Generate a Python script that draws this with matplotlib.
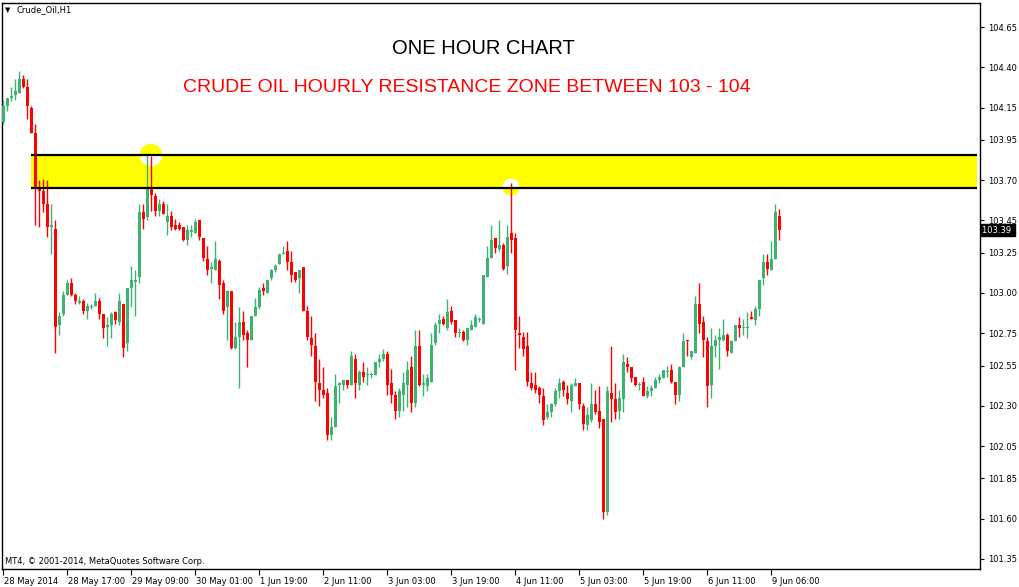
import numpy as np
import matplotlib
matplotlib.use("Agg")
from matplotlib import pyplot as plt
from matplotlib.patches import Rectangle, Ellipse
from matplotlib import transforms

# hourly candles, Crude_Oil H1, 28 May 2014 -> 9 Jun 2014
opens = [104.06, 104.16, 104.21, 104.23, 104.24, 104.33, 104.28, 104.15, 103.99, 103.65,
         103.63, 103.55, 103.41, 103.40, 102.80, 102.87, 102.99, 103.06, 102.99, 102.94,
         102.95, 102.89, 102.91, 102.92, 102.95, 102.87, 102.79, 102.80, 102.88, 102.82,
         102.93, 102.69, 103.03, 103.07, 103.10, 103.50, 103.47, 103.66, 103.60, 103.51,
         103.55, 103.44, 103.48, 103.42, 103.42, 103.41, 103.33, 103.38, 103.37, 103.45,
         103.34, 103.21, 103.15, 103.14, 103.20, 103.06, 102.91, 103.01, 102.66, 102.73,
         102.82, 102.75, 102.71, 102.86, 102.91, 103.03, 103.00, 103.09, 103.14, 103.18,
         103.24, 103.26, 103.19, 103.13, 103.09, 103.16, 102.89, 102.72, 102.67, 102.44,
         102.40, 102.38, 102.12, 102.17, 102.43, 102.43, 102.46, 102.43, 102.59, 102.43,
         102.51, 102.49, 102.49, 102.49, 102.57, 102.59, 102.62, 102.44, 102.37, 102.27,
         102.37, 102.43, 102.54, 102.32, 102.67, 102.43, 102.42, 102.45, 102.69, 102.81,
         102.84, 102.78, 102.89, 102.83, 102.75, 102.76, 102.71, 102.77, 102.79, 102.83,
         102.81, 103.10, 103.22, 103.34, 103.27, 103.30, 103.17, 103.37, 103.34, 102.75,
         102.73, 102.67, 102.44, 102.43, 102.41, 102.36, 102.23, 102.26, 102.31, 102.39,
         102.45, 102.38, 102.33, 102.42, 102.44, 102.30, 102.18, 102.21, 102.31, 102.27,
         102.22, 101.64, 102.38, 102.34, 102.27, 102.34, 102.56, 102.54, 102.48, 102.43,
         102.45, 102.36, 102.39, 102.41, 102.46, 102.47, 102.51, 102.52, 102.45, 102.37,
         102.54, 102.71, 102.60, 102.63, 102.93, 102.82, 102.70, 102.43, 102.67, 102.71,
         102.71, 102.74, 102.63, 102.70, 102.80, 102.78, 102.78, 102.85, 102.83, 102.90,
         103.09, 103.19, 103.14, 103.21, 103.48]
highs = [104.20, 104.21, 104.28, 104.33, 104.38, 104.35, 104.33, 104.16, 104.05, 103.70,
         103.71, 103.70, 103.55, 103.45, 102.88, 103.01, 103.08, 103.09, 103.00, 102.98,
         102.96, 102.94, 102.93, 103.00, 102.97, 102.87, 102.85, 102.88, 102.89, 103.00,
         102.93, 103.03, 103.17, 103.14, 103.55, 103.55, 103.86, 103.85, 103.62, 103.58,
         103.57, 103.55, 103.51, 103.46, 103.44, 103.41, 103.42, 103.42, 103.46, 103.45,
         103.34, 103.29, 103.19, 103.32, 103.21, 103.08, 103.02, 103.01, 102.82, 102.91,
         102.89, 102.77, 102.86, 102.97, 103.04, 103.06, 103.08, 103.15, 103.18, 103.24,
         103.29, 103.32, 103.26, 103.13, 103.14, 103.16, 102.92, 102.86, 102.75, 102.59,
         102.54, 102.41, 102.23, 102.50, 102.45, 102.46, 102.46, 102.64, 102.62, 102.52,
         102.57, 102.54, 102.51, 102.57, 102.62, 102.65, 102.64, 102.53, 102.39, 102.41,
         102.51, 102.58, 102.61, 102.77, 102.77, 102.50, 102.50, 102.75, 102.82, 102.87,
         102.86, 102.96, 102.92, 102.83, 102.78, 102.77, 102.78, 102.83, 102.87, 102.85,
         103.11, 103.29, 103.42, 103.34, 103.45, 103.31, 103.42, 103.68, 103.37, 102.86,
         102.76, 102.76, 102.51, 102.51, 102.42, 102.41, 102.31, 102.32, 102.41, 102.47,
         102.46, 102.43, 102.44, 102.47, 102.44, 102.32, 102.29, 102.44, 102.40, 102.42,
         102.22, 102.42, 102.67, 102.44, 102.40, 102.62, 102.60, 102.54, 102.48, 102.45,
         102.48, 102.42, 102.43, 102.48, 102.50, 102.52, 102.55, 102.56, 102.45, 102.55,
         102.75, 102.71, 102.64, 102.98, 103.06, 102.86, 102.73, 102.78, 102.74, 102.78,
         102.84, 102.75, 102.71, 102.80, 102.85, 102.84, 102.88, 102.89, 102.92, 103.08,
         103.24, 103.24, 103.32, 103.55, 103.52]
lows = [104.05, 104.13, 104.19, 104.20, 104.24, 104.27, 104.08, 103.99, 103.42, 103.41,
        103.50, 103.35, 103.24, 102.63, 102.74, 102.86, 102.99, 102.98, 102.93, 102.93,
        102.87, 102.84, 102.90, 102.92, 102.84, 102.72, 102.67, 102.72, 102.81, 102.80,
        102.60, 102.64, 102.91, 102.86, 103.06, 103.40, 103.45, 103.51, 103.48, 103.48,
        103.49, 103.36, 103.39, 103.39, 103.39, 103.32, 103.30, 103.35, 103.37, 103.33,
        103.20, 103.11, 103.06, 103.14, 102.96, 102.87, 102.71, 102.65, 102.65, 102.41,
        102.71, 102.54, 102.71, 102.86, 102.90, 102.99, 103.00, 103.08, 103.13, 103.18,
        103.24, 103.14, 103.07, 103.07, 103.00, 102.89, 102.71, 102.61, 102.33, 102.30,
        102.35, 102.09, 102.09, 102.17, 102.32, 102.40, 102.41, 102.43, 102.35, 102.40,
        102.45, 102.43, 102.47, 102.49, 102.54, 102.58, 102.37, 102.32, 102.22, 102.23,
        102.27, 102.29, 102.26, 102.29, 102.42, 102.36, 102.39, 102.45, 102.68, 102.75,
        102.80, 102.77, 102.81, 102.73, 102.73, 102.70, 102.68, 102.77, 102.79, 102.82,
        102.81, 103.10, 103.22, 103.25, 103.26, 103.14, 103.12, 103.25, 102.52, 102.66,
        102.61, 102.42, 102.40, 102.38, 102.32, 102.18, 102.22, 102.23, 102.30, 102.35,
        102.36, 102.31, 102.26, 102.42, 102.28, 102.15, 102.15, 102.20, 102.25, 102.16,
        101.60, 101.62, 102.20, 102.22, 102.22, 102.26, 102.51, 102.45, 102.42, 102.40,
        102.36, 102.35, 102.36, 102.41, 102.44, 102.47, 102.48, 102.44, 102.31, 102.33,
        102.54, 102.61, 102.59, 102.63, 102.75, 102.60, 102.29, 102.35, 102.60, 102.53,
        102.70, 102.61, 102.63, 102.70, 102.73, 102.74, 102.72, 102.84, 102.80, 102.86,
        103.05, 103.11, 103.14, 103.21, 103.33]
closes = [104.16, 104.21, 104.22, 104.25, 104.33, 104.28, 104.16, 103.99, 103.65, 103.63,
          103.55, 103.41, 103.42, 102.79, 102.86, 102.99, 103.06, 102.99, 102.95, 102.95,
          102.89, 102.92, 102.92, 102.95, 102.87, 102.78, 102.80, 102.87, 102.83, 102.95,
          102.66, 103.03, 103.08, 103.08, 103.50, 103.46, 103.65, 103.61, 103.51, 103.55,
          103.49, 103.48, 103.41, 103.40, 103.40, 103.33, 103.39, 103.39, 103.44, 103.35,
          103.22, 103.14, 103.16, 103.21, 103.05, 102.89, 103.01, 102.66, 102.73, 102.82,
          102.74, 102.71, 102.86, 102.91, 103.02, 103.01, 103.08, 103.14, 103.17, 103.24,
          103.25, 103.19, 103.11, 103.08, 103.14, 102.89, 102.73, 102.68, 102.45, 102.40,
          102.37, 102.12, 102.17, 102.42, 102.44, 102.46, 102.43, 102.61, 102.44, 102.51,
          102.48, 102.49, 102.50, 102.57, 102.59, 102.62, 102.43, 102.37, 102.27, 102.39,
          102.44, 102.52, 102.32, 102.67, 102.43, 102.44, 102.47, 102.68, 102.80, 102.83,
          102.81, 102.88, 102.82, 102.75, 102.76, 102.71, 102.78, 102.80, 102.85, 102.84,
          103.11, 103.22, 103.33, 103.28, 103.30, 103.15, 103.35, 103.33, 102.77, 102.74,
          102.65, 102.45, 102.41, 102.40, 102.37, 102.21, 102.26, 102.31, 102.39, 102.44,
          102.40, 102.34, 102.43, 102.44, 102.31, 102.19, 102.24, 102.31, 102.26, 102.20,
          101.64, 102.39, 102.34, 102.26, 102.35, 102.57, 102.54, 102.47, 102.43, 102.43,
          102.36, 102.39, 102.41, 102.46, 102.48, 102.52, 102.51, 102.45, 102.37, 102.54,
          102.70, 102.70, 102.64, 102.93, 102.81, 102.71, 102.42, 102.67, 102.71, 102.73,
          102.74, 102.64, 102.70, 102.80, 102.78, 102.78, 102.78, 102.84, 102.90, 103.08,
          103.19, 103.15, 103.21, 103.50, 103.39]

time_labels = ["28 May 2014", "28 May 17:00", "29 May 09:00", "30 May 01:00", "1 Jun 19:00",
               "2 Jun 11:00", "3 Jun 03:00", "3 Jun 19:00", "4 Jun 11:00", "5 Jun 03:00",
               "5 Jun 19:00", "6 Jun 11:00", "9 Jun 06:00"]
price_ticks = [104.65, 104.40, 104.15, 103.95, 103.70, 103.45, 103.25, 103.00,
               102.75, 102.55, 102.30, 102.05, 101.85, 101.60, 101.35]
last_price = 103.39
zone_low, zone_high = 103.65, 103.855
touch_bars = [37, 127]
touch_prices = [103.856, 103.657]

BULL = "#3cb371"
BEAR = "#ff0000"

W, H = 1020, 587
fig = plt.figure(figsize=(W / 100, H / 100), dpi=100)
ax = fig.add_axes([2 / W, 18 / H, 978 / W, 566 / H])

# 4 px per bar, 161.2 px per 1.00 of price
ax.set_xlim(-0.25, 244.25)
ax.set_ylim(101.2877, 104.7989)

# resistance zone
zone = Rectangle((7.0, zone_low), 236.5, zone_high - zone_low,
                 facecolor="#ffff00", edgecolor="none", zorder=1)
ax.add_patch(zone)

# touch markers: yellow outside the zone, white inside
sizes = [(5.6, 0.139), (4.2, 0.104)]
for b, p, (w, h) in zip(touch_bars, touch_prices, sizes):
    ax.add_patch(Ellipse((b, p), w, h, facecolor="#ffff00", edgecolor="none", zorder=2))
    inner = Ellipse((b, p), w, h, facecolor="white", edgecolor="none", zorder=2.1)
    ax.add_patch(inner)
    inner.set_clip_path(zone)

# candles
o = np.array(opens)
hi = np.array(highs)
lo = np.array(lows)
c = np.array(closes)
x = np.arange(len(o))
cols = np.where(c >= o, BULL, BEAR)
ax.vlines(x, lo, hi, colors=cols, lw=1.0, zorder=3)
body_bottom = np.minimum(o, c)
body_h = np.maximum(np.abs(c - o), 0.007)
ax.bar(x, body_h, bottom=body_bottom, width=0.75, color=cols, linewidth=0, zorder=3)

# zone borders
ax.hlines([zone_high, zone_low], 7.0, 243.5, colors="black", lw=1.6, zorder=4)

# axes styling
for s in ax.spines.values():
    s.set_color("black")
    s.set_linewidth(1.0)
ax.yaxis.tick_right()
ax.set_yticks(price_ticks)
ax.set_yticklabels([f"{v:.2f}" for v in price_ticks])
ax.tick_params(axis="y", direction="out", length=3, width=0.8, pad=3, labelsize=6, colors="black")
ax.set_xticks(np.arange(0, 16 * len(time_labels), 16))
ax.set_xticklabels(time_labels, ha="left")
ax.tick_params(axis="x", direction="out", length=4, width=0.8, pad=2, labelsize=6, colors="black")
offset = transforms.ScaledTranslation(1 / 100, 0, fig.dpi_scale_trans)
for t in ax.get_xticklabels():
    t.set_transform(t.get_transform() + offset)

# last price tag
tr = transforms.blended_transform_factory(ax.transAxes, ax.transData)
ax.text(1.002, last_price, "103.39 ", transform=tr, color="white", fontsize=6,
        va="center", ha="left",
        bbox=dict(boxstyle="square,pad=0.15", fc="black", ec="black"))

# titles
fig.text(483 / W, 1 - 48 / H, "ONE HOUR CHART", fontsize=14.5, family="Liberation Sans",
         ha="center", va="center", color="black")
fig.text(467 / W, 1 - 88 / H, "CRUDE OIL HOURLY RESISTANCE ZONE BETWEEN 103 - 104",
         fontsize=14, family="Liberation Sans", ha="center", va="center", color="#ff0000")

# window captions
fig.text(8 / W, 1 - 10 / H, "\u25bc", fontsize=5, ha="center", va="center", color="black")
fig.text(17 / W, 1 - 10 / H, "Crude_Oil,H1", fontsize=6, ha="left", va="center", color="black")
fig.text(5 / W, 1 - 561 / H, "MT4, \u00a9 2001-2014, MetaQuotes Software Corp.", fontsize=6,
         ha="left", va="center", color="black")

fig.savefig("out.png", dpi=100, facecolor="white")
